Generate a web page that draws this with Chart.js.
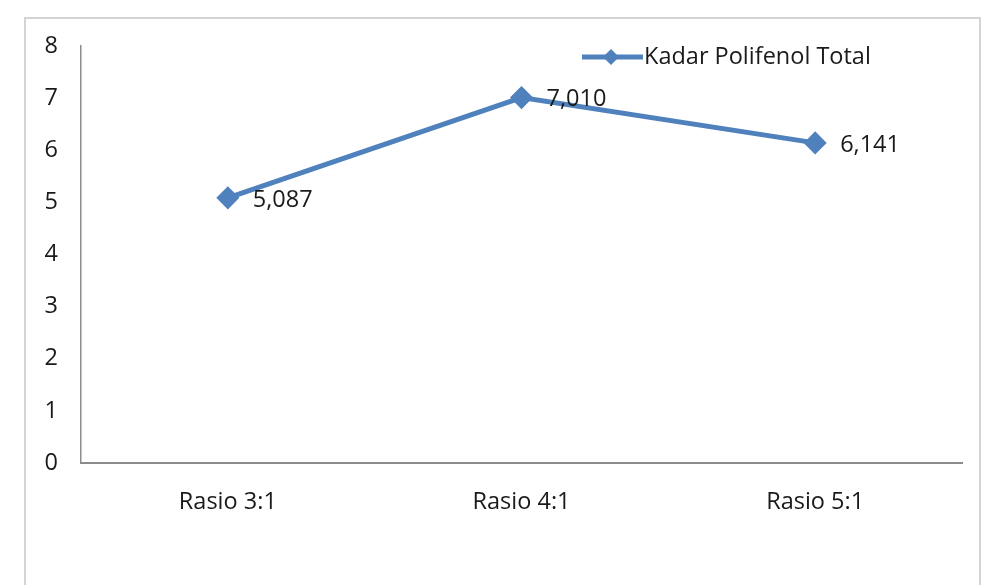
<!DOCTYPE html>
<html>
<head>
<meta charset="utf-8">
<script src="https://cdn.jsdelivr.net/npm/chart.js@4.4.1/dist/chart.umd.min.js"></script>
<style>
html,body{margin:0;padding:0;background:#fff;}
#wrap{width:991px;height:585px;position:relative;}
</style>
</head>
<body>
<div id="wrap"><canvas id="c" width="991" height="585"></canvas></div>
<script>
const categories = ["Rasio 3:1", "Rasio 4:1", "Rasio 5:1"];
const seriesName = "Kadar Polifenol Total";
const seriesValues = [5.087, 7.010, 6.141];
const valueLabels = ["5,087", "7,010", "6,141"];
const yTicks = [0, 1, 2, 3, 4, 5, 6, 7, 8];

const FONT = "'Open Sans'";
const FSIZE = 23.5;
const LINE_COLOR = "#4F81BD";
const TEXT_COLOR = "#1a1a1a";
const AXIS_COLOR = "#8c8c8c";

const framePlugin = {
  id: "frame",
  beforeDraw(chart) {
    const ctx = chart.ctx;
    ctx.save();
    ctx.fillStyle = "#fff";
    ctx.fillRect(0, 0, chart.width, chart.height);
    ctx.strokeStyle = "#d4d4d4";
    ctx.lineWidth = 2;
    ctx.strokeRect(25, 18, 955, 600);
    ctx.restore();
  }
};

const labelPlugin = {
  id: "valueLabels",
  afterDatasetsDraw(chart) {
    const ctx = chart.ctx;
    const meta = chart.getDatasetMeta(0);
    ctx.save();
    ctx.font = FSIZE + "px " + FONT;
    ctx.fillStyle = TEXT_COLOR;
    ctx.textAlign = "left";
    ctx.textBaseline = "middle";
    meta.data.forEach((pt, i) => {
      ctx.fillText(valueLabels[i], pt.x + 25, pt.y + 2);
    });
    ctx.restore();
  }
};

const legendPlugin = {
  id: "customLegend",
  afterDraw(chart) {
    const ctx = chart.ctx;
    const ds = chart.data.datasets[0];
    const y = 57;
    ctx.save();
    ctx.strokeStyle = ds.borderColor;
    ctx.lineWidth = 5;
    ctx.beginPath();
    ctx.moveTo(582, y);
    ctx.lineTo(643, y);
    ctx.stroke();
    ctx.fillStyle = ds.borderColor;
    ctx.beginPath();
    ctx.moveTo(611, y - 8); ctx.lineTo(619, y); ctx.lineTo(611, y + 8); ctx.lineTo(603, y); ctx.closePath();
    ctx.fill();
    ctx.font = FSIZE + "px " + FONT;
    ctx.fillStyle = TEXT_COLOR;
    ctx.textAlign = "left";
    ctx.textBaseline = "middle";
    ctx.fillText(ds.label, 644, y);
    ctx.restore();
  }
};

new Chart(document.getElementById("c"), {
  type: "line",
  data: {
    labels: categories,
    datasets: [{
      label: seriesName,
      data: seriesValues,
      borderColor: LINE_COLOR,
      backgroundColor: LINE_COLOR,
      borderWidth: 5,
      pointStyle: "rectRot",
      pointRadius: 8,
      pointHoverRadius: 8,
      pointBackgroundColor: LINE_COLOR,
      pointBorderColor: LINE_COLOR,
      tension: 0,
      fill: false
    }]
  },
  options: {
    responsive: false,
    animation: false,
    devicePixelRatio: 1,
    layout: { padding: { top: 46, right: 29, left: 0, bottom: 0 } },
    plugins: {
      legend: { display: false },
      tooltip: { enabled: false }
    },
    scales: {
      x: {
        type: "category",
        offset: true,
        grid: { display: false, drawTicks: false },
        border: { display: true, color: AXIS_COLOR, width: 2 },
        ticks: { color: TEXT_COLOR, font: { family: FONT, size: FSIZE }, padding: 25, maxRotation: 0 },
        afterFit(scale) { scale.height = 122; }
      },
      y: {
        min: 0,
        max: 8,
        afterBuildTicks(scale) { scale.ticks = yTicks.map(v => ({ value: v })); },
        grid: { display: false, drawTicks: false },
        border: { display: true, color: AXIS_COLOR, width: 1.5 },
        ticks: { color: TEXT_COLOR, font: { family: FONT, size: FSIZE }, padding: 23 },
        afterFit(scale) { scale.width = 81; }
      }
    }
  },
  plugins: [framePlugin, labelPlugin, legendPlugin]
});
</script>
</body>
</html>
